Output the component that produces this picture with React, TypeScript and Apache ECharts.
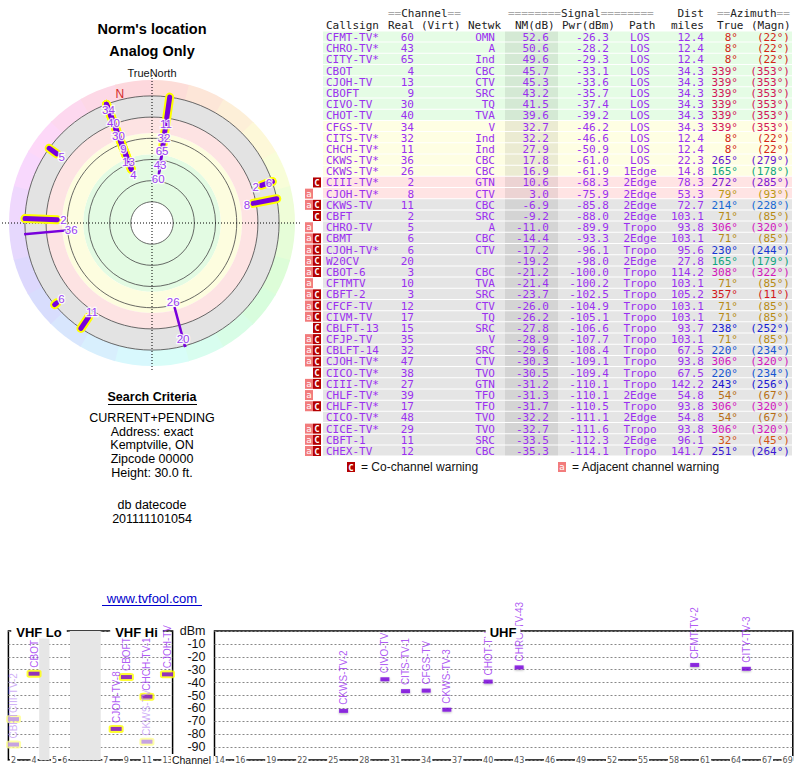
import React, { useEffect, useRef } from "react";
import * as echarts from "echarts";

// ---------------- data ----------------
const callsigns = ["CFMT-TV*","CHRO-TV*","CITY-TV*","CBOT","CJOH-TV","CBOFT","CIVO-TV","CHOT-TV","CFGS-TV","CITS-TV*","CHCH-TV*","CKWS-TV*","CKWS-TV*","CIII-TV*","CJOH-TV*","CKWS-TV","CBFT","CHRO-TV","CBMT","CJOH-TV*","W20CV","CBOT-6","CFTMTV","CBFT-2","CFCF-TV","CIVM-TV","CBLFT-13","CFJP-TV","CBLFT-14","CJOH-TV*","CICO-TV*","CIII-TV*","CHLF-TV*","CHLF-TV*","CICO-TV*","CICE-TV*","CBFT-1","CHEX-TV"];
const realChannels = [60,43,65,4,13,9,30,40,34,32,11,36,26,2,8,11,2,5,6,6,20,3,10,3,12,17,15,35,32,47,38,27,39,17,48,29,11,12];
const networks = ["OMN","A","Ind","CBC","CTV","SRC","TQ","TVA","V","Ind","Ind","CBC","CBC","GTN","CTV","CBC","SRC","A","CBC","CTV","","CBC","TVA","SRC","CTV","TQ","SRC","V","SRC","CTV","TVO","GTN","TFO","TFO","TVO","TVO","SRC","CBC"];
const noiseMarginDb = [52.6,50.6,49.6,45.7,45.3,43.2,41.5,39.6,32.7,32.2,27.9,17.8,16.9,10.6,3.0,-6.9,-9.2,-11.0,-14.4,-17.2,-19.2,-21.2,-21.4,-23.7,-26.0,-26.2,-27.8,-28.9,-29.6,-30.3,-30.5,-31.2,-31.3,-31.7,-32.2,-32.7,-33.5,-35.3];
const powerDbm = [-26.3,-28.2,-29.3,-33.1,-33.6,-35.7,-37.4,-39.2,-46.2,-46.6,-50.9,-61.0,-61.9,-68.3,-75.9,-85.8,-88.0,-89.9,-93.3,-96.1,-98.0,-100.0,-100.2,-102.5,-104.9,-105.1,-106.6,-107.7,-108.4,-109.1,-109.4,-110.1,-110.1,-110.5,-111.1,-111.6,-112.3,-114.1];
const paths = ["LOS","LOS","LOS","LOS","LOS","LOS","LOS","LOS","LOS","LOS","LOS","LOS","1Edge","2Edge","2Edge","2Edge","2Edge","Tropo","2Edge","Tropo","2Edge","Tropo","Tropo","Tropo","Tropo","Tropo","Tropo","Tropo","Tropo","Tropo","Tropo","Tropo","2Edge","Tropo","2Edge","Tropo","2Edge","Tropo"];
const distMiles = [12.4,12.4,12.4,34.3,34.3,34.3,34.3,34.3,34.3,12.4,12.4,22.3,14.8,78.3,53.3,72.7,103.1,93.8,103.1,95.6,27.8,114.2,103.1,105.2,103.1,103.1,93.7,103.1,67.5,93.8,67.5,142.2,54.8,93.8,54.8,93.8,96.1,141.7];
const azTrue = [8,8,8,339,339,339,339,339,339,8,8,265,165,272,79,214,71,306,71,230,165,308,71,357,71,71,238,71,220,306,220,243,54,306,54,306,32,251];
const azMagn = [22,22,22,353,353,353,353,353,353,22,22,279,178,285,93,228,85,320,85,244,179,322,85,11,85,85,252,85,234,320,234,256,67,320,67,320,45,264];
const warnings = ["","","","","","","","","","","","","","C","a","aC","C","a","aC","aC","aC","aC","a","aC","aC","aC","C","aC","aC","aC","C","aC","a","aC","","aC","aC","aC"];
const spectrumLabels = ["CFMT-TV-2","CHRO-TV-43","CITY-TV-3","CBOT","CJOH-TV","CBOFT","CIVO-TV","CHOT-TV","CFGS-TV","CITS-TV-1","CHCH-TV-1","CKWS-TV-3","CKWS-TV-2","CIII-TV-2","CJOH-TV-8","CKWS-TV","CBFT"];

const polarGridNm = [80, 60, 40, 20, 0, -20];
const polarBandEdges = [80, 35, 15, 0, -20];
const vhfTickChannels = [2, 4, 5, 6, 7, 9, 11, 13];
const uhfTickChannels = [14,16,19,22,25,28,31,34,37,40,43,46,49,52,55,58,61,64,67,69];
const dbmTicks = [0,-10,-20,-30,-40,-50,-60,-70,-80,-90,-100];

// ---------------- styles ----------------
const SANS = '"Liberation Sans", Arial, sans-serif';
const MONO = '"DejaVu Sans Mono", monospace';
const TXT = "#9b30f0";
const VIOLET = "#7800dc";
const bandColors = ["#e3fbe3", "#fdfddf", "#fde3e3", "#e3e3e3"];

function rowFill(nm: number) {
  if (nm >= 35) return "#e5fce5";
  if (nm >= 15) return "#fefee3";
  if (nm >= 0) return "#ffe4e4";
  return "#e5e5e5";
}
function azColor(az: number) {
  const h = az <= 90 ? az * 0.62 : az;
  const l = h > 25 && h < 70 ? 40 : h >= 140 && h <= 200 ? 36 : 46;
  return `hsl(${Math.round(h)},80%,${l}%)`;
}
// VHF channel -> compressed frequency scale (MHz with shortened FM gap)
function vhfFreq(ch: number) {
  if (ch <= 4) return 54 + (ch - 2) * 6 + 3;
  if (ch <= 6) return 78 + (ch - 5) * 6 + 3;
  return 108 + (ch - 7) * 6 + 3;
}
const vhfGaps = [[72, 78], [90, 108]];

const polarRows = noiseMarginDb.map((v, i) => i).filter((i) => noiseMarginDb[i] >= -20);
const spectrumRows = noiseMarginDb.map((v, i) => i).filter((i) => noiseMarginDb[i] > -10);
const declination = azMagn[0] - azTrue[0];

function buildOption(): any {
  const vhfRows = spectrumRows.filter((i) => realChannels[i] <= 13);
  const uhfRows = spectrumRows.filter((i) => realChannels[i] > 13);
  const isLight = (i: number) => warnings[i].indexOf("C") >= 0;

  const text = (t: string, x: number, y: number, font: string, fill = "#000", align = "center", extra: any = {}) => ({
    type: "text", z: 50,
    style: { text: t, x, y, font, fill, align, verticalAlign: "middle", ...extra },
  });
  const line = (x1: number, y1: number, x2: number, y2: number, stroke = "#000", w = 1) => ({
    type: "line", z: 50, shape: { x1, y1, x2, y2 }, style: { stroke, lineWidth: w },
  });

  const hdr = (t: string, x: number, y: number, align = "left") =>
    text(t, x, y, `11px ${MONO}`, "#222", align, { lineHeight: 10.5 });
  const eqHdr = (a: string, w: string, b: string, x: number, y: number) => ({
    type: "text", z: 50,
    style: {
      text: `{e|${a}}{w|${w}}{e|${b}}`, x, y, font: `11px ${MONO}`, align: "left", verticalAlign: "middle", lineHeight: 10.5,
      rich: {
        e: { fill: "#aaa", font: `11px ${MONO}`, lineHeight: 10.5 },
        w: { fill: "#222", font: `11px ${MONO}`, lineHeight: 10.5 },
      },
    },
  });

  const graphic: any[] = [
    text("Norm's location", 152, 29, `bold 14.5px ${SANS}`),
    text("Analog Only", 152, 51, `bold 14.5px ${SANS}`),
    text("TrueNorth", 152, 73, `11px ${SANS}`, "#111"),
    text("Search Criteria", 152, 397, `bold 12.5px ${SANS}`),
    line(108, 404.5, 197, 404.5, "#000", 1),
    text("CURRENT+PENDING", 152, 418, `12.5px ${SANS}`, "#000", "center", { lineHeight: 13 }),
    text("Address: exact", 152, 431.5, `12.5px ${SANS}`, "#000", "center", { lineHeight: 13 }),
    text("Kemptville, ON", 152, 445, `12.5px ${SANS}`, "#000", "center", { lineHeight: 13 }),
    text("Zipcode 00000", 152, 459, `12.5px ${SANS}`, "#000", "center", { lineHeight: 13 }),
    text("Height: 30.0 ft.", 152, 473, `12.5px ${SANS}`, "#000", "center", { lineHeight: 13 }),
    text("db datecode", 152, 505, `12.5px ${SANS}`, "#000", "center", { lineHeight: 13 }),
    text("201111101054", 152, 519, `12.5px ${SANS}`, "#000", "center", { lineHeight: 13 }),
    text("www.tvfool.com", 152, 598, `13px ${SANS}`, "#0000cc"),
    line(102, 605.5, 202, 605.5, "#0000cc", 1),
    // table header
    eqHdr("==", "Channel", "==", 388, 13.5),
    eqHdr("========", "Signal", "========", 508, 13.5),
    hdr("Dist", 704, 13.5, "right"),
    eqHdr("==", "Azimuth", "==", 717, 13.5),
    hdr("Callsign", 326, 25),
    hdr("Real", 388, 25),
    hdr("(Virt)", 421, 25),
    hdr("Netwk", 468, 25),
    hdr("NM(dB)", 515, 25),
    hdr("Pwr(dBm)", 562, 25),
    hdr("Path", 629, 25),
    hdr("miles", 704, 25, "right"),
    hdr("True", 717, 25),
    hdr("(Magn)", 751, 25),
    // legend
    { type: "rect", z: 50, shape: { x: 347, y: 462, width: 8, height: 10 }, style: { fill: "#b40000" } },
    text("C", 351, 467.5, `bold 9px ${MONO}`, "#fff"),
    text("= Co-channel warning", 361, 467, `12px ${SANS}`, "#111", "left"),
    { type: "rect", z: 50, shape: { x: 558, y: 462, width: 8, height: 10 }, style: { fill: "#f27c7c" } },
    text("a", 562, 467, `9px ${MONO}`, "#fff"),
    text("= Adjacent channel warning", 572, 467, `12px ${SANS}`, "#111", "left"),
    // spectrum frame labels
    text("VHF Lo", 39, 632, `bold 13px ${SANS}`, "#000", "center", { backgroundColor: "#fff", padding: [0, 5] }),
    text("VHF Hi", 136.5, 632, `bold 13px ${SANS}`, "#000", "center", { backgroundColor: "#fff", padding: [0, 5] }),
    text("UHF", 503, 632, `bold 13px ${SANS}`, "#000", "center", { backgroundColor: "#fff", padding: [0, 4] }),
    text("Channel", 212, 759.5, `10.5px ${SANS}`, "#111", "right", { backgroundColor: "#fff", padding: [0, 1] }),
  ];

  // ---- polar helpers ----
  const rOfFactory = (params: any, api: any) => {
    const cs = params.coordSys;
    return (v: number) => {
      const p = api.coord([v, 0]);
      return Math.hypot(p[0] - cs.cx, p[1] - cs.cy);
    };
  };
  const polarPoint = (cs: any, r: number, az: number) => {
    const a = (az * Math.PI) / 180;
    return [cs.cx + r * Math.sin(a), cs.cy - r * Math.cos(a)];
  };

  const polarBackground = {
    type: "custom", coordinateSystem: "polar", polarIndex: 0, z: 1, silent: true,
    data: [[0, 0]],
    renderItem: (params: any, api: any) => {
      const cs = params.coordSys;
      const rOf = rOfFactory(params, api);
      const ch: any[] = [];
      const seg = 15;
      for (let a = 0; a < 360; a += seg) {
        ch.push({
          type: "sector",
          shape: { cx: cs.cx, cy: cs.cy, r0: rOf(-20), r: rOf(-35), startAngle: ((a - 90) * Math.PI) / 180, endAngle: ((a + seg - 90) * Math.PI) / 180 + 0.01, clockwise: true },
          style: { fill: `hsl(${a + seg / 2},90%,92%)` },
        });
      }
      for (let b = 0; b < bandColors.length; b++) {
        ch.push({
          type: "ring",
          shape: { cx: cs.cx, cy: cs.cy, r0: rOf(polarBandEdges[b]), r: rOf(polarBandEdges[b + 1]) },
          style: { fill: bandColors[b] },
        });
      }
      polarGridNm.forEach((v) => {
        ch.push({ type: "circle", shape: { cx: cs.cx, cy: cs.cy, r: rOf(v) }, style: { fill: "none", stroke: "#444", lineWidth: 0.8 } });
      });
      ch.push({ type: "line", shape: { x1: cs.cx, y1: cs.cy - 148, x2: cs.cx, y2: cs.cy + 148 }, style: { stroke: "#000", lineWidth: 1, lineDash: [1, 2] } });
      ch.push({ type: "line", shape: { x1: cs.cx - 150, y1: cs.cy, x2: cs.cx + 148, y2: cs.cy }, style: { stroke: "#000", lineWidth: 1, lineDash: [1, 2] } });
      const np = api.coord([-25.5, 360 - declination]);
      ch.push({ type: "text", style: { text: "N", x: np[0], y: np[1], fill: "#d42a2a", font: `12px ${SANS}`, align: "center", verticalAlign: "middle" } });
      return { type: "group", children: ch };
    },
  };

  const stationBars = (halo: boolean, z: number) => ({
    type: "custom", coordinateSystem: "polar", polarIndex: 0, z, silent: true,
    data: polarRows.map((i) => [noiseMarginDb[i], azTrue[i], i]),
    renderItem: (params: any, api: any) => {
      const i = api.value(2) as number;
      const vhf = realChannels[i] <= 13;
      if (halo && !vhf) return { type: "group", children: [] };
      const p1 = api.coord([noiseMarginDb[i], azTrue[i]]);
      const p2 = api.coord([-20, azTrue[i]]);
      return {
        type: "line",
        shape: { x1: p1[0], y1: p1[1], x2: p2[0], y2: p2[1] },
        style: halo
          ? { stroke: "#ffff00", lineWidth: 9, lineCap: "round" }
          : { stroke: VIOLET, lineWidth: vhf ? 5 : 2.5, lineCap: vhf ? "round" : "square" },
      };
    },
  });

  const stationLabels = {
    type: "custom", coordinateSystem: "polar", polarIndex: 0, z: 4, silent: true,
    data: polarRows.map((i) => [noiseMarginDb[i], azTrue[i], i]),
    renderItem: (params: any, api: any) => {
      const i = api.value(2) as number;
      const cs = params.coordSys;
      const rOf = rOfFactory(params, api);
      const group = polarRows.filter((j) => azTrue[j] === azTrue[i]).sort((a, b) => noiseMarginDb[b] - noiseMarginDb[a]);
      let prev = -Infinity;
      let r = 0;
      for (const j of group) {
        const rr = Math.max(rOf(noiseMarginDb[j]) - 6, prev + 14);
        if (j === i) { r = rr; break; }
        prev = rr;
      }
      const p = polarPoint(cs, r, azTrue[i]);
      return {
        type: "text",
        style: {
          text: String(realChannels[i]), x: p[0], y: p[1], fill: "#9a40f2", font: `11.5px ${SANS}`, lineHeight: 11,
          align: "center", verticalAlign: "middle", stroke: "rgba(255,255,255,0.85)", lineWidth: 2.5,
        },
      };
    },
  };

  const tableSeries = {
    type: "custom", xAxisIndex: 0, yAxisIndex: 0, z: 2, silent: true,
    data: callsigns.map((c, i) => [0, i]),
    renderItem: (params: any, api: any) => {
      const i = api.value(1) as number;
      const yc = api.coord([0, i])[1];
      const bh = api.size([0, 1])[1];
      const top = yc - bh / 2;
      const font = `11px ${MONO}`;
      const t = (s: string, x: number, align: string, fill = TXT) => ({
        type: "text", style: { text: s, x, y: yc + 0.5, fill, font, align, verticalAlign: "middle", lineHeight: 10.5 },
      });
      const children: any[] = [
        { type: "rect", shape: { x: 323, y: top, width: 469, height: bh - 1 }, style: { fill: rowFill(noiseMarginDb[i]) } },
        { type: "rect", shape: { x: 505, y: top, width: 53, height: bh - 1 }, style: { fill: "rgba(0,0,0,0.075)" } },
        t(callsigns[i], 326, "left"),
        t(String(realChannels[i]), 414, "right"),
        t(networks[i], 495, "right"),
        t(noiseMarginDb[i].toFixed(1), 549, "right"),
        t(powerDbm[i].toFixed(1), 609, "right"),
        t(paths[i], 640, "center"),
        t(distMiles[i].toFixed(1), 704, "right"),
        t(`${azTrue[i]}°`, 738, "right", azColor(azTrue[i])),
        t(`(${azMagn[i]}°)`, 790, "right", azColor(azTrue[i])),
      ];
      const w = warnings[i];
      if (w.indexOf("a") >= 0) {
        children.push({ type: "rect", shape: { x: 305, y: yc - 5, width: 8, height: 10 }, style: { fill: "#f27c7c" } });
        children.push({ type: "text", style: { text: "a", x: 309, y: yc, fill: "#fff", font: `9px ${MONO}`, lineHeight: 9, align: "center", verticalAlign: "middle" } });
      }
      if (w.indexOf("C") >= 0) {
        children.push({ type: "rect", shape: { x: 313, y: yc - 5, width: 8, height: 10 }, style: { fill: "#b40000" } });
        children.push({ type: "text", style: { text: "C", x: 317, y: yc + 0.5, fill: "#fff", font: `bold 9px ${MONO}`, lineHeight: 9, align: "center", verticalAlign: "middle" } });
      }
      return { type: "group", children };
    },
  };

  const markerLabel = (i: number) => ({
    show: true, position: "top", distance: 4, rotate: 90, align: "left", verticalAlign: "middle",
    formatter: "{b}", fontSize: 10, lineHeight: 10, fontFamily: SANS, color: isLight(i) ? "#c49af5" : TXT,
  });

  const vhfHalo = {
    type: "scatter", xAxisIndex: 1, yAxisIndex: 1, z: 3, silent: true,
    symbol: "roundRect", symbolSize: [15, 8],
    data: vhfRows.map((i) => ({ value: [vhfFreq(realChannels[i]), powerDbm[i]], itemStyle: { color: isLight(i) ? "#ffff90" : "#ffff00" } })),
    markArea: {
      silent: true, itemStyle: { color: "#e6e6e6" },
      data: vhfGaps.map((g) => [{ xAxis: g[0] }, { xAxis: g[1] }]),
    },
  };
  const vhfMarkers = {
    type: "scatter", xAxisIndex: 1, yAxisIndex: 1, z: 4, silent: true,
    symbol: "rect", symbolSize: [11, 4],
    data: vhfRows.map((i) => ({
      name: spectrumLabels[i], value: [vhfFreq(realChannels[i]), powerDbm[i]],
      itemStyle: { color: isLight(i) ? "#b88cf0" : VIOLET }, label: markerLabel(i),
    })),
  };
  const uhfMarkers = {
    type: "scatter", xAxisIndex: 2, yAxisIndex: 2, z: 4, silent: true,
    symbol: "rect", symbolSize: [9, 4],
    itemStyle: { shadowBlur: 2, shadowColor: "rgba(0,0,0,0.35)", shadowOffsetY: 1 },
    data: uhfRows.map((i) => ({
      name: spectrumLabels[i], value: [realChannels[i], powerDbm[i]],
      itemStyle: { color: VIOLET }, label: markerLabel(i),
    })),
  };

  const chanAxisLabel = {
    fontSize: 8, color: "#555", fontFamily: '"DejaVu Sans", sans-serif', margin: -4,
    backgroundColor: "#fff", padding: [0, 1],
  };
  const dbmSplit = { show: true, lineStyle: { color: "#888", type: [2, 2], width: 1 } };

  return {
    animation: false,
    polar: { center: [152, 223], radius: [0, 143] },
    angleAxis: { type: "value", min: 0, max: 360, startAngle: 90, clockwise: true, show: false },
    radiusAxis: { type: "value", min: -35, max: 100, inverse: true, show: false },
    grid: [
      { left: 300, top: 31.4, width: 500, height: 425.2, show: false },
      { left: 8.4, top: 631, width: 164.2, height: 129, show: true, borderColor: "#000", borderWidth: 1.5, backgroundColor: "transparent" },
      { left: 214.5, top: 631, width: 578.3, height: 129, show: true, borderColor: "#000", borderWidth: 1.5, backgroundColor: "transparent" },
    ],
    xAxis: [
      { gridIndex: 0, type: "value", min: 0, max: 1, show: false },
      {
        gridIndex: 1, type: "value", min: 54, max: 150, z: 10,
        axisLine: { show: false }, axisTick: { show: false }, splitLine: { show: false },
        axisLabel: {
          ...chanAxisLabel,
          customValues: vhfTickChannels.map(vhfFreq),
          formatter: (v: number) => {
            const c = vhfTickChannels.find((ch) => Math.abs(vhfFreq(ch) - v) < 0.01);
            return c === undefined ? "" : String(c);
          },
        },
      },
      {
        gridIndex: 2, type: "value", min: 13.5, max: 69.5, z: 10,
        axisLine: { show: false }, axisTick: { show: false }, splitLine: { show: false },
        axisLabel: { ...chanAxisLabel, customValues: uhfTickChannels, formatter: (v: number) => String(Math.round(v)) },
      },
    ],
    yAxis: [
      { gridIndex: 0, type: "category", data: callsigns.map((c, i) => String(i)), inverse: true, show: false },
      {
        gridIndex: 1, type: "value", min: -100, max: 0, interval: 10,
        axisLine: { show: false }, axisTick: { show: false }, axisLabel: { show: false }, splitLine: dbmSplit,
      },
      {
        gridIndex: 2, type: "value", min: -100, max: 0, interval: 10,
        axisLine: { show: false }, axisTick: { show: false }, splitLine: dbmSplit,
        axisLabel: {
          margin: 9, fontSize: 12.5, lineHeight: 12, color: "#111", fontFamily: SANS,
          formatter: (v: number) => (v === 0 ? "dBm" : v === dbmTicks[dbmTicks.length - 1] ? "" : String(v)),
        },
      },
    ],
    series: [
      polarBackground,
      stationBars(true, 2),
      stationBars(false, 3),
      stationLabels,
      tableSeries,
      vhfHalo,
      vhfMarkers,
      uhfMarkers,
    ],
    graphic,
  };
}

export default function App() {
  const ref = useRef<HTMLDivElement>(null);
  useEffect(() => {
    document.body.style.margin = "0";
    const chart = echarts.init(ref.current as HTMLDivElement, null, { renderer: "svg" });
    chart.setOption(buildOption());
    return () => chart.dispose();
  }, []);
  return <div ref={ref} style={{ width: 800, height: 768, background: "#fff" }} />;
}
